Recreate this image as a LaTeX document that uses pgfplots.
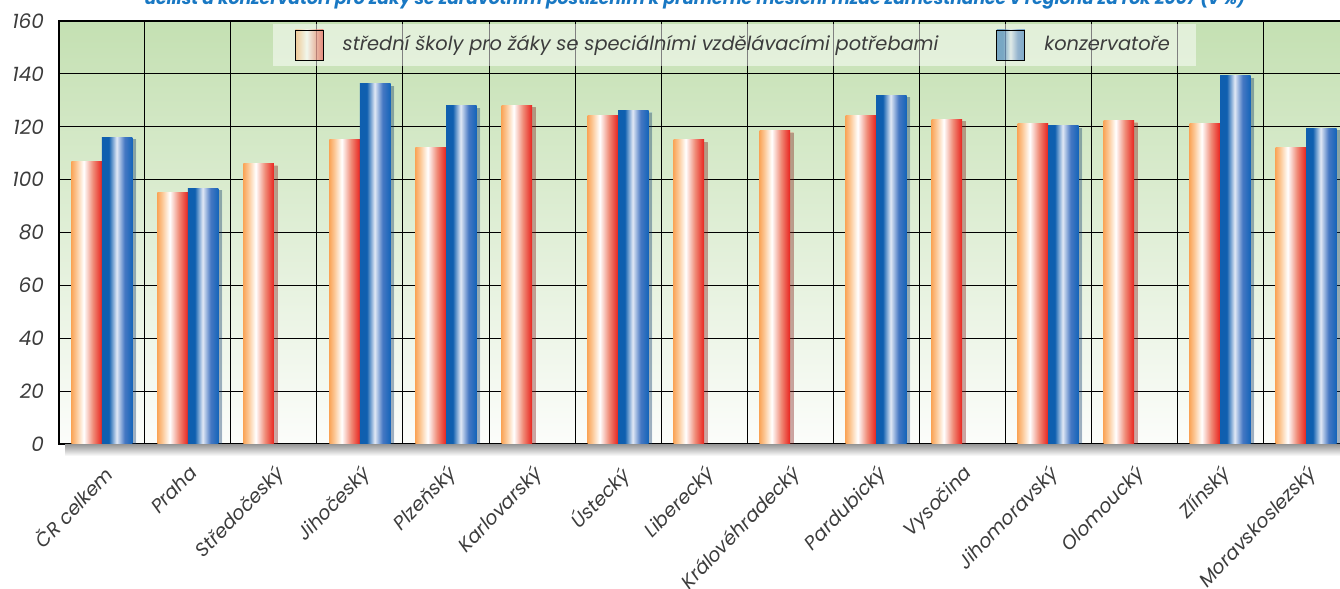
\documentclass[border=0pt]{standalone}
\usepackage{pgfplots}
\pgfplotsset{compat=1.18}
\usepackage{fontspec}
\setmainfont{Poppins}
\definecolor{oL}{RGB}{250,166,90}
\definecolor{oL2}{RGB}{252,200,150}
\definecolor{oR2}{RGB}{240,140,120}
\definecolor{oR}{RGB}{232,35,30}
\definecolor{bL}{RGB}{15,95,175}
\definecolor{bW}{RGB}{225,232,245}
\definecolor{bR2}{RGB}{70,120,195}
\definecolor{bR}{RGB}{20,100,185}
\definecolor{bgT}{RGB}{196,224,178}
\definecolor{bgB}{RGB}{252,253,251}
\definecolor{txt}{RGB}{60,60,60}
\definecolor{ttl}{RGB}{25,120,195}
\pgfdeclarehorizontalshading{orangebar}{100bp}{color(0bp)=(oL); color(25bp)=(oL); color(33bp)=(oL2); color(45bp)=(white); color(60bp)=(oR2); color(75bp)=(oR); color(100bp)=(oR)}
\pgfdeclarehorizontalshading{bluebar}{100bp}{color(0bp)=(bL); color(25bp)=(bL); color(36bp)=(bL); color(49bp)=(bW); color(62bp)=(bR2); color(75bp)=(bR); color(100bp)=(bR)}
\pgfplotsset{
  barshadow/.style={preaction={fill=black, fill opacity=0.22, transform canvas={xshift=1.8pt, yshift=-1.2pt}}},
  obar/.style={ybar, bar width=15.25pt, bar shift=-7.625pt, draw=none, barshadow, shade, shading=orangebar, forget plot},
  bbar/.style={ybar, bar width=15.25pt, bar shift=7.625pt, draw=none, barshadow, shade, shading=bluebar, forget plot},
}
\begin{document}
\begin{tikzpicture}
\begin{axis}[
  at={(0pt,0pt)}, anchor=south west,
  scale only axis, width=645pt, height=211.5pt,
  xmin=-0.5, xmax=14.5, ymin=0, ymax=160,
  xtick={0,...,14},
  xticklabels={ČR celkem, Praha, Středočeský, Jihočeský, Plzeňský, Karlovarský, Ústecký, Liberecký, Královéhradecký, Pardubický, Vysočina, Jihomoravský, Olomoucký, Zlínský, Moravskoslezský},
  minor xtick={-0.5,0.5,...,14.5},
  xminorgrids, xmajorgrids=false,
  ytick={0,20,...,160}, ymajorgrids,
  grid style={black, line width=0.5pt},
  minor grid style={black, line width=0.5pt},
  major tick length=0pt, minor tick length=0pt,
  axis line style={black, line width=0.6pt},
  /pgf/number format/assume math mode=true,
  yticklabel style={font=\fontsize{10}{12}\selectfont\itshape, text=txt, xshift=-4pt},
  xticklabel style={font=\fontsize{9.6}{12}\selectfont\itshape, text=txt, xshift=0pt, yshift=-5pt, rotate=46, anchor=north east},
  axis background/.style={shade, top color=bgT, bottom color=bgB},
  legend columns=2,
  legend style={at={(0.5236,0.995)}, anchor=north, draw=none, fill=white, fill opacity=0.5, text opacity=1,
    font=\fontsize{9.7}{11}\selectfont\itshape, text=txt, inner xsep=11pt, inner ysep=3pt,
    /tikz/every odd column/.append style={column sep=7.5pt},
    /tikz/every even column/.append style={column sep=27pt}},
]
\addlegendimage{legend image code/.code={\path[shade, shading=orangebar] (0pt,-7.5pt) rectangle (14pt,7.5pt);}}
\addlegendimage{legend image code/.code={\path[shade, shading=bluebar] (0pt,-7.5pt) rectangle (14pt,7.5pt);}}
% střední školy pro žáky se speciálními vzdělávacími potřebami
\addplot[obar] coordinates {(0,107.0)};
\addplot[obar] coordinates {(1,95.3)};
\addplot[obar] coordinates {(2,106.2)};
\addplot[obar] coordinates {(3,115.0)};
\addplot[obar] coordinates {(4,112.0)};
\addplot[obar] coordinates {(5,128.2)};
\addplot[obar] coordinates {(6,124.4)};
\addplot[obar] coordinates {(7,115.0)};
\addplot[obar] coordinates {(8,118.7)};
\addplot[obar] coordinates {(9,124.4)};
\addplot[obar] coordinates {(10,122.9)};
\addplot[obar] coordinates {(11,121.4)};
\addplot[obar] coordinates {(12,122.5)};
\addplot[obar] coordinates {(13,121.4)};
\addplot[obar] coordinates {(14,112.3)};
% konzervatoře
\addplot[bbar] coordinates {(0,116.1)};
\addplot[bbar] coordinates {(1,96.8)};
\addplot[bbar] coordinates {(3,136.2)};
\addplot[bbar] coordinates {(4,127.9)};
\addplot[bbar] coordinates {(6,126.2)};
\addplot[bbar] coordinates {(9,132.0)};
\addplot[bbar] coordinates {(11,120.3)};
\addplot[bbar] coordinates {(13,139.2)};
\addplot[bbar] coordinates {(14,119.5)};
\legend{střední školy pro žáky se speciálními vzdělávacími potřebami, konzervatoře}
\end{axis}
\shade[top color=black!40, bottom color=white] (3pt,-0.3pt) rectangle (645pt,-6pt);
\node[anchor=base, font=\fontsize{8.6}{10}\selectfont\bfseries\itshape, text=ttl] at (318pt,219.5pt)
  {učilišť a konzervatoří pro žáky se zdravotním postižením k průměrné měsíční mzdě zaměstnance v regionu za rok 2007 (v \%)};
\pgfresetboundingbox
\useasboundingbox (-29.5pt,-72.5pt) rectangle (640.5pt,222pt);
\end{tikzpicture}
\end{document}
